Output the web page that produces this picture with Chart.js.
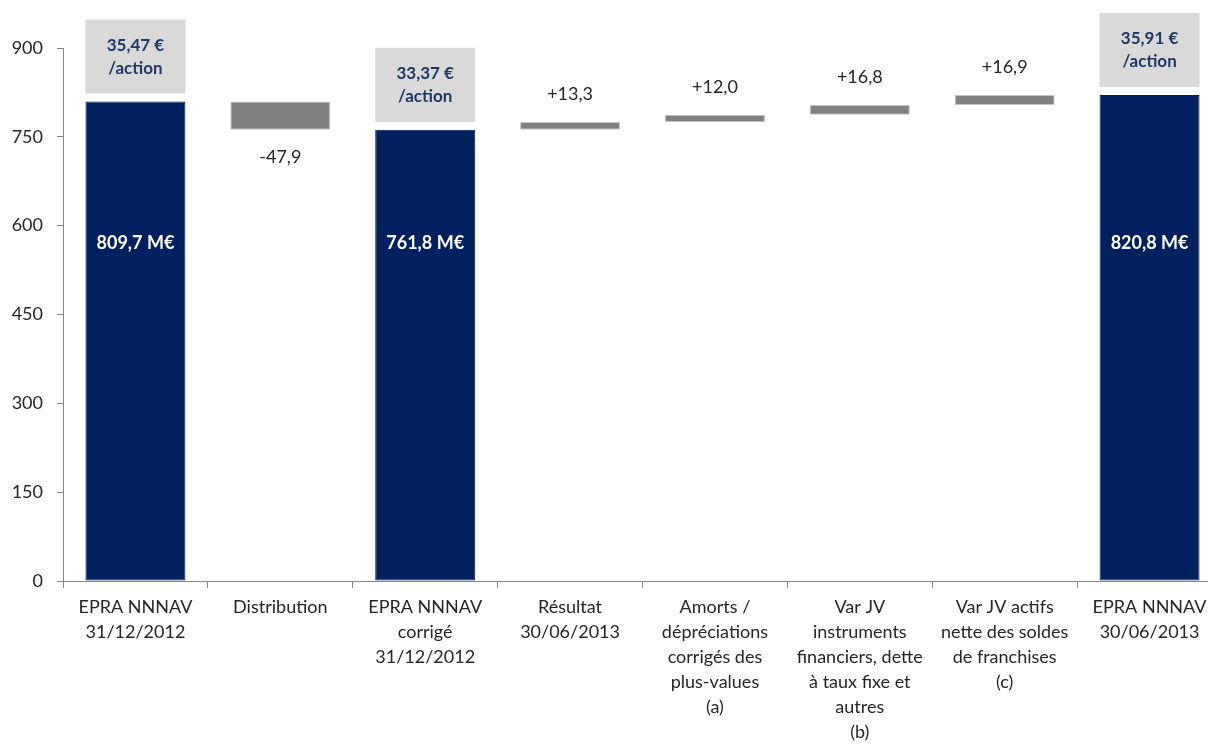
<!DOCTYPE html>
<html>
<head>
<meta charset="utf-8">
<script src="https://cdn.jsdelivr.net/npm/chart.js"></script>
<style>
  html, body { margin: 0; padding: 0; background: #fff; overflow: hidden; }
  .wrap { width: 1224px; height: 745px; position: relative; }
</style>
</head>
<body>
<div class="wrap"><canvas id="bridge"></canvas></div>
<script>
const categories = [
  ['EPRA NNNAV', '31/12/2012'],
  ['Distribution'],
  ['EPRA NNNAV', 'corrigé', '31/12/2012'],
  ['Résultat', '30/06/2013'],
  ['Amorts /', 'dépréciations', 'corrigés des', 'plus-values', '(a)'],
  ['Var JV', 'instruments', 'financiers, dette', 'à taux fixe et', 'autres', '(b)'],
  ['Var JV actifs', 'nette des soldes', 'de franchises', '(c)'],
  ['EPRA NNNAV', '30/06/2013']
];
// 'total' steps show the running level, others are changes
const stepKinds = ['total', 'delta', 'total', 'delta', 'delta', 'delta', 'delta', 'total'];
const deltas = [809.7, -47.9, 0, 13.3, 12.0, 16.8, 16.9, 0];
const totalLabels = ['809,7 M€', null, '761,8 M€', null, null, null, null, '820,8 M€'];
const deltaLabels = [null, '-47,9', null, '+13,3', '+12,0', '+16,8', '+16,9', null];
const perShare = ['35,47 €', null, '33,37 €', null, null, null, null, '35,91 €'];
const yTicks = [0, 150, 300, 450, 600, 750, 900];

const NAVY = '#002060';
const GREY = '#808080';
const FONT = 'Lato, "Open Sans", sans-serif';

// build floating ranges from the running total
let level = 0;
const ranges = stepKinds.map((kind, i) => {
  if (kind === 'total') {
    level += deltas[i];
    return [0, Math.round(level * 10) / 10];
  }
  const start = level;
  level += deltas[i];
  return [Math.round(start * 10) / 10, Math.round(level * 10) / 10];
});

const labelPlugin = {
  id: 'bridgeLabels',
  afterDatasetsDraw(chart) {
    const ctx = chart.ctx;
    const meta = chart.getDatasetMeta(0);
    const yScale = chart.scales.y;
    ctx.save();
    ctx.textAlign = 'center';
    ctx.textBaseline = 'middle';
    meta.data.forEach((bar, i) => {
      const left = bar.x - bar.width / 2;
      const top = Math.min(bar.y, bar.base);
      const bottom = Math.max(bar.y, bar.base);
      if (perShare[i]) {
        const boxH = 74;
        const boxTop = top - 8 - boxH;
        ctx.fillStyle = '#d9d9d9';
        ctx.fillRect(left, boxTop, bar.width, boxH);
        ctx.fillStyle = '#1f3864';
        ctx.font = 'bold 17px ' + FONT;
        ctx.fillText(perShare[i], bar.x, boxTop + boxH / 2 - 11);
        ctx.fillText('/action', bar.x, boxTop + boxH / 2 + 12);
      }
      if (totalLabels[i]) {
        // labels sit at roughly the same height inside each total bar
        ctx.fillStyle = '#ffffff';
        ctx.font = 'bold 18px ' + FONT;
        ctx.fillText(totalLabels[i], bar.x, yScale.getPixelForValue(570));
      }
      if (deltaLabels[i]) {
        ctx.fillStyle = '#262626';
        ctx.font = '18px ' + FONT;
        const y = deltas[i] < 0 ? bottom + 27 : top - 28;
        ctx.fillText(deltaLabels[i], bar.x, y);
      }
    });
    ctx.restore();
  }
};

new Chart(document.getElementById('bridge'), {
  type: 'bar',
  data: {
    labels: categories,
    datasets: [{
      data: ranges,
      backgroundColor: stepKinds.map(k => k === 'total' ? NAVY : GREY),
      borderColor: stepKinds.map(k => k === 'total' ? NAVY : '#c4c4c4'),
      borderWidth: 1,
      borderSkipped: false,
      barPercentage: 0.69,
      categoryPercentage: 1
    }]
  },
  options: {
    responsive: true,
    maintainAspectRatio: false,
    animation: false,
    layout: { padding: { top: 48, right: 2, left: 0, bottom: 0 } },
    plugins: {
      legend: { display: false },
      tooltip: { enabled: false }
    },
    scales: {
      x: {
        grid: {
          offset: true,
          drawOnChartArea: false,
          drawTicks: true,
          tickLength: 7,
          color: '#868686'
        },
        border: { display: true, color: '#868686' },
        ticks: {
          color: '#262626',
          font: { family: FONT, size: 18, lineHeight: '25px' },
          padding: 7,
          maxRotation: 0,
          autoSkip: false
        },
        afterFit(scale) { scale.height = 164; }
      },
      y: {
        min: 0,
        max: 900,
        afterBuildTicks(scale) { scale.ticks = yTicks.map(v => ({ value: v })); },
        grid: {
          drawOnChartArea: false,
          drawTicks: true,
          tickLength: 6,
          color: '#868686'
        },
        border: { display: true, color: '#868686' },
        ticks: {
          color: '#262626',
          font: { family: FONT, size: 18 },
          padding: 14
        },
        afterFit(scale) { scale.width = 63; }
      }
    }
  },
  plugins: [labelPlugin]
});
</script>
</body>
</html>
